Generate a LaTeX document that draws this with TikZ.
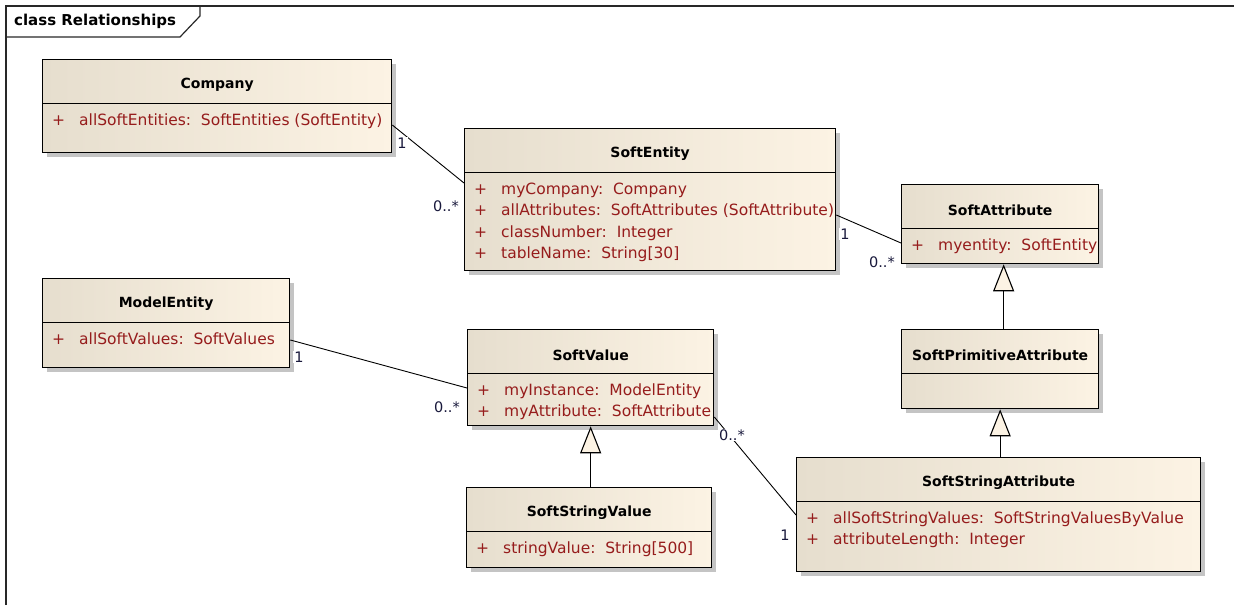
\documentclass[tikz,border=0pt]{standalone}
\usepackage{fontspec}
\setmainfont{DejaVu Sans}
\usetikzlibrary{arrows.meta,calc}
\definecolor{boxleft}{RGB}{230,222,206}
\definecolor{boxright}{RGB}{252,243,228}
\definecolor{shadowgray}{RGB}{196,196,196}
\definecolor{attrred}{RGB}{150,28,28}
\definecolor{multblue}{RGB}{25,25,60}
\definecolor{framegray}{RGB}{40,40,40}
\tikzset{
 classbox/.style={draw=black, line width=1.3pt, left color=boxleft, right color=boxright, inner sep=0pt, rectangle},
 classshadow/.style={fill=shadowgray},
 divider/.style={draw=black, line width=1.1pt},
 classname/.style={font=\fontsize{14}{16}\selectfont\bfseries, text=black, inner sep=0pt},
 attrtext/.style={font=\fontsize{15.5}{18}\selectfont, text=attrred, inner sep=0pt, anchor=base west},
 mult/.style={font=\fontsize{14.5}{16}\selectfont, text=multblue, fill=white, inner sep=1pt},
 assoc/.style={draw=black, line width=0.9pt},
 gen/.style={draw=black, line width=1.1pt, -{Triangle[length=27pt,width=21pt,fill=boxright,line width=1.1pt]}},
 frameline/.style={draw=framegray, line width=1.7pt},
}
\newcommand{\umlclass}[6]{%
  \fill[classshadow] (#2+5,#3+5) rectangle (#2+#4+5,#3+#5+5);
  \node[classbox, minimum width=#4pt, minimum height=#5pt, anchor=north west] (#1) at (#2,#3) {};
  \draw[divider] ([yshift=-44.5pt]#1.north west) -- ([yshift=-44.5pt]#1.north east);
  \node[classname] at ([yshift=-26pt]#1.north) {#6};
}
\newcommand{\umlattrs}[2]{%
  \foreach \a [count=\i from 0] in {#2} {
     \node[attrtext] at ([xshift=10pt,yshift=-66.5pt-21.4pt*\i]#1.north west) {\makebox[27pt][l]{+}\a};
  }
}
\begin{document}
\begin{tikzpicture}[x=1pt,y=-1pt]
\fill[white] (0,0) rectangle (1234,605);
\useasboundingbox (0,0) rectangle (1234,605);
% frame
\draw[frameline] (6,605) -- (6,6) -- (1234,6);
\draw[frameline, line width=1.2pt] (6,37) -- (180,37) -- (200,16) -- (200,6);
\node[font=\fontsize{15}{17}\selectfont\bfseries, anchor=west, inner sep=0pt] (title) at (14,21) {class Relationships};
% classes
\umlclass{company}{42}{59}{349}{93}{Company}
\umlattrs{company}{allSoftEntities:~~SoftEntities (SoftEntity)}
\umlclass{softentity}{464}{128}{371}{142}{SoftEntity}
\umlattrs{softentity}{myCompany:~~Company, allAttributes:~~SoftAttributes (SoftAttribute), classNumber:~~Integer, tableName:~~String[30]}
\umlclass{softattr}{901}{184}{197}{79}{SoftAttribute}
\umlattrs{softattr}{myentity:~~SoftEntity}
\umlclass{modelentity}{42}{278}{247}{89}{ModelEntity}
\umlattrs{modelentity}{allSoftValues:~~SoftValues}
\umlclass{softvalue}{467}{329}{246}{96}{SoftValue}
\umlattrs{softvalue}{myInstance:~~ModelEntity, myAttribute:~~SoftAttribute}
\umlclass{softprim}{901}{329}{197}{79}{SoftPrimitiveAttribute}
\umlclass{softstrattr}{796}{457}{404}{114}{SoftStringAttribute}
\umlattrs{softstrattr}{allSoftStringValues:~~SoftStringValuesByValue, attributeLength:~~Integer}
\umlclass{softstrval}{466}{487}{245}{80}{SoftStringValue}
\umlattrs{softstrval}{stringValue:~~String[500]}
% associations
\draw[assoc] ([yshift=-66pt]company.north east) -- ([yshift=-55pt]softentity.north west);
\draw[assoc] ([yshift=-87pt]softentity.north east) -- ([yshift=-59pt]softattr.north west);
\draw[assoc] ([yshift=-62pt]modelentity.north east) -- ([yshift=-59pt]softvalue.north west);
\draw[assoc] ([yshift=-88pt]softvalue.north east) -- ([yshift=-58pt]softstrattr.north west);
% generalizations
\draw[gen] ([xshift=3.5pt]softprim.north) -- ([xshift=3.5pt]softattr.south);
\draw[gen] (softstrattr.north -| softprim.south) -- (softprim.south);
\draw[gen] (softstrval.north -| softvalue.south) -- (softvalue.south);
% multiplicities
\node[mult] (m1) at (402,143) {1};
\node[mult] (m2) at (446,206) {0..*};
\node[mult] (m3) at (845,234) {1};
\node[mult] (m4) at (882,262) {0..*};
\node[mult] (m5) at (299,357) {1};
\node[mult] (m6) at (447,407) {0..*};
\node[mult] (m7) at (732,435) {0..*};
\node[mult] (m8) at (785,535) {1};
\end{tikzpicture}
\end{document}
